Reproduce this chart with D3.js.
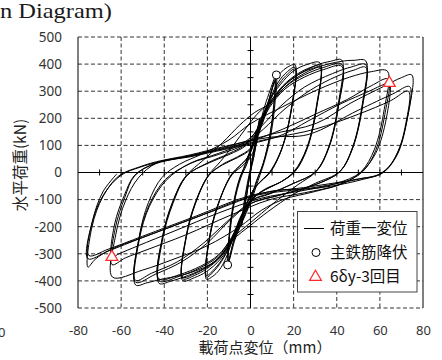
<!DOCTYPE html>
<html><head><meta charset="utf-8">
<script src="https://cdn.jsdelivr.net/npm/d3@7"></script>
<style>body{margin:0;background:#fff;} svg{display:block}</style>
</head><body>
<svg id="chart" width="442" height="360"></svg>
<script>
// Axis ticks (displacement in mm, load in kN)
const xTicks = [-80, -60, -40, -20, 0, 20, 40, 60, 80];
const yTicks = [500, 400, 300, 200, 100, 0, -100, -200, -300, -400, -500];
const xMinorTicks = [-70, -60, -50, -40, -30, -20, -10, 10, 20, 30, 40, 50, 60, 70];
const yMinorTicks = [450, 400, 350, 300, 250, 200, 150, 100, 50, -50, -100, -150, -200, -250, -300, -350, -400, -450];

// Load–displacement record [disp mm, load kN], one array per loading level
const preYield = [[0,0],[1.8,95],[4.2,198],[3.3,142],[1.6,62],[0,8],[-1.9,-92],[-4.1,-194],[-3.2,-136],[-1.5,-55],[0,4],[1.9,96],[4.3,196],[3.3,138],[1.5,56],[0,2],[-2,-94],[-4.2,-192]];

const level1dy = [[-3.2,-122],[-1.5,-42],[0.6,40],[3,130],[6,228],[8.6,292],[12,360],
  [11.3,250],[9.5,140],[6.5,42],[3.6,-28],[0.2,-108],[-4,-186],[-7.2,-248],[-10.6,-341],
  [-10,-236],[-8.3,-130],[-5.5,-32],[-2.5,30],[1,110],[4.5,190],[8,256],[11.5,345],
  [10.8,240],[9,136],[6,36],[3,-30],[0,-105],[-4,-182],[-7.6,-250],[-10.3,-330],
  [-9.7,-228],[-8,-126],[-5.2,-28],[-2.3,28],[1.2,108],[4.7,188],[8.1,252],[11.3,338],
  [10.6,235],[8.8,130],[5.8,32],[2.8,-30],[-0.2,-102],[-4.2,-178],[-7.7,-248],[-10.2,-325]];

const level2dy = [[-9.5,-215],[-7.5,-110],[-4.5,-20],[-1.5,35],[2.5,140],[8,254],[11,330],[14,368],[17,388],[20.6,397],
  [19.1,246],[14.6,91],[9,3],[5,-30],[1.5,-62],[-3,-140],[-8.4,-250],[-11.5,-318],[-14.5,-360],[-17.5,-383],[-20.4,-394],
  [-18.8,-236],[-14.4,-106],[-9,-10],[-5,25],[-1.5,55],[3,140],[8.2,252],[12,322],[16,364],[20.6,388],
  [19.1,240],[14.6,89],[9.2,2],[5,-30],[1.5,-62],[-3,-140],[-8.4,-250],[-12.5,-316],[-16.5,-360],[-20.4,-386],
  [-18.8,-232],[-14.4,-104],[-9,-9],[-5,24],[-1.5,52],[3.2,138],[8.3,250],[12.5,318],[16.5,358],[20.6,382],
  [19.1,236],[14.6,88],[9.3,2],[5.2,-30],[1.6,-62],[-3,-138],[-8.4,-248],[-12.5,-312],[-16.5,-354],[-20.4,-380]];

const level3dy = [[-18.8,-228],[-14.4,-102],[-8.5,-8],[-3,30],[1,72],[4.5,160],[8,254],[14,326],[20,375],[26,398],[32.2,405],
  [30.7,251],[26.2,93],[20.2,4],[14,-35],[7,-60],[2,-90],[-3,-150],[-8.4,-250],[-14,-320],[-20.5,-366],[-26,-388],[-31.4,-399],
  [-29.8,-240],[-25.4,-112],[-19.4,-12],[-13,30],[-6,58],[0,90],[4,160],[8.5,250],[15,320],[22,365],[28,388],[32.2,395],
  [30.7,245],[26.2,90],[20.4,3],[14,-35],[7,-62],[1.5,-92],[-3.5,-150],[-8.6,-245],[-14,-312],[-20.5,-356],[-26,-380],[-31.4,-392],
  [-29.8,-236],[-25.4,-110],[-19.5,-11],[-13,28],[-6,55],[0,86],[4.3,155],[8.8,246],[15,315],[22,360],[28,382],[32.2,388],
  [30.7,240],[26.3,88],[20.6,3],[14,-35],[7,-63],[1.2,-94],[-3.8,-150],[-8.7,-242],[-14,-308],[-20.5,-350],[-26,-374],[-31.4,-386]];

const level4dy = [[-29.8,-232],[-25.4,-106],[-19.5,-10],[-14,40],[-8,100],[-2,165],[3,215],[8.3,254],[16,325],[24,370],[32,400],[37,410],[42.3,415],
  [40.8,257],[36.3,95],[30.3,4],[20,-40],[9,-77],[1,-101],[-3.5,-160],[-8.4,-250],[-15,-320],[-22,-356],[-31,-386],[-37,-401],[-42.4,-409],
  [-40.7,-245],[-36,-115],[-29.5,-12],[-20,35],[-10,70],[-2,105],[3,160],[8.5,245],[16,315],[25,360],[34,388],[42.3,400],
  [40.8,248],[36.3,92],[30.3,3],[22,-45],[12,-105],[3,-165],[-3,-205],[-8.6,-243],[-15,-310],[-23,-350],[-33,-383],[-42.4,-400],
  [-40.8,-240],[-36.2,-112],[-29.8,-12],[-20,33],[-10,66],[-2,100],[3.3,155],[8.8,240],[16,308],[25,352],[34,380],[42.3,392],
  [40.8,243],[36.3,90],[30.4,3],[20,-40],[9,-79],[0,-106],[-4,-160],[-8.8,-240],[-15,-305],[-23,-345],[-33,-377],[-42.4,-393]];

const level5dy = [[-40.8,-236],[-36.2,-110],[-29.8,-12],[-22,45],[-13,110],[-5,175],[2,222],[8.5,252],[18,330],[30,385],[42,410],[48,414],[53.4,412],
  [51.9,255],[47.4,95],[41.4,4],[30,-40],[20,-80],[8,-145],[0,-195],[-8.4,-250],[-16,-325],[-28,-370],[-42,-395],[-48,-407],[-53.3,-415],
  [-51.6,-249],[-46.9,-125],[-39,-28],[-28,34],[-15,70],[-3,110],[5,170],[14,245],[25,315],[38,365],[47,390],[53.4,398],
  [51.9,247],[47.4,92],[41.4,3],[30,-45],[14,-82],[0,-115],[-10,-180],[-20,-260],[-32,-330],[-44,-375],[-53.3,-405],
  [-51.6,-240],[-47,-120],[-39.5,-26],[-28,33],[-15,66],[-3,102],[6,160],[16,235],[28,305],[40,355],[48,378],[53.4,388],
  [51.9,241],[47.4,90],[41.5,3],[30,-45],[14,-83],[-1,-118],[-11,-182],[-22,-262],[-34,-330],[-46,-372],[-53.3,-398]];

const level6dy = [[-51.7,-240],[-47.3,-110],[-41,-18],[-33,30],[-22,70],[-10,120],[0,180],[15,243],[30.7,304],[46,352],[56,372],[63.5,374],
  [62,232],[57.5,86],[51.5,4],[43,-40],[30,-70],[15,-100],[5,-140],[-5,-200],[-20,-270],[-35,-318],[-50,-360],[-64,-386],
  [-62.5,-230],[-58,-105],[-52,-20],[-43.5,35],[-28,60],[-12,90],[0,115],[15,160],[30,215],[45,270],[56,320],[63.8,345],
  [62.3,214],[58,80],[52,3],[41,-45],[25,-75],[9,-100],[-10,-160],[-30,-230],[-48,-285],[-58,-315],[-64.2,-340],
  [-62.7,-205],[-58.3,-92],[-53.7,-12],[-44,35],[-28,58],[-12,85],[0,105],[15,140],[26.7,190],[42,254],[55,300],[62.2,326],[64.4,330],
  [63,200],[58,70],[51,0],[40,-40],[22,-70],[5,-95],[-15,-150],[-35,-215],[-52,-270],[-61,-300],[-64.3,-312]];

const level7dy = [[-63,-190],[-58.5,-84],[-53.7,-10],[-45,30],[-30,58],[-12.6,92],[9,140],[30.7,182],[46.2,255],[61.6,317],[70,350],[74.8,360],
  [73.3,223],[68.5,80],[62,3],[50.8,-28],[30.7,-58],[9,-70],[-20,-150],[-45,-225],[-65,-285],[-72,-320],[-75.4,-349],
  [-73.5,-200],[-68.5,-90],[-61,-12],[-51.3,21],[-43.5,40],[-28,65],[-12.6,95],[9,130],[26.7,140],[50,230],[66,290],[73.8,317],
  [72.5,190],[68,65],[61,-3],[50,-25],[30,-55],[0,-89],[-25,-165],[-50,-240],[-66,-290],[-75.4,-318],
  [-73.5,-185],[-68,-80],[-60,-10],[-51,20],[-43,38],[-28,62],[-12,88],[9,125],[30,160],[50,215],[65,265],[73.2,300],
  [72,180],[67.5,60],[60.5,-3],[49,-25],[28,-52],[0,-85],[-25,-160],[-50,-235],[-66,-283],[-75,-306],
  [-73.3,-180],[-68.5,-72],[-62,-5]];

// Marked points
const yieldPoints = [[12, 360], [-10.6, -341]];          // 主鉄筋降伏
const thirdCycle6dy = [[64.4, 330], [-64.3, -312]];      // 6δy-3回目

const svg = d3.select("#chart");
const x = d3.scaleLinear().domain([-80, 80]).range([78, 423]);
const y = d3.scaleLinear().domain([-500, 500]).range([308, 37]);
const numFont = "'Noto Sans', sans-serif";
const jpFont = "'Noto Sans CJK JP', sans-serif";

// Heading fragment at top-left
svg.append("text").attr("x", 0).attr("y", 17.5)
  .attr("font-family", "'Liberation Serif', 'Times New Roman', serif").attr("font-size", 21.5)
  .attr("textLength", 112).attr("lengthAdjust", "spacingAndGlyphs")
  .attr("fill", "#1a1a1a").text("n Diagram)");

// Fragment of a neighbouring axis label
svg.append("text").attr("x", 5.5).attr("y", 337).attr("text-anchor", "end")
  .attr("font-family", numFont).attr("font-size", 13).attr("fill", "#333").text("80");

// Dashed grid
const grid = svg.append("g").attr("stroke", "#333").attr("stroke-width", 1).attr("stroke-dasharray", "4,2.5");
grid.selectAll("line.v").data(xTicks.filter(d => d !== 0 && Math.abs(d) !== 80)).join("line")
  .attr("x1", d => x(d)).attr("x2", d => x(d)).attr("y1", y(500)).attr("y2", y(-500));
grid.selectAll("line.h").data(yTicks.filter(d => d !== 0)).join("line")
  .attr("x1", x(-80)).attr("x2", x(80)).attr("y1", d => y(d)).attr("y2", d => y(d));

// Solid side borders
svg.append("line").attr("x1", x(-80)).attr("x2", x(-80)).attr("y1", y(500)).attr("y2", y(-500)).attr("stroke", "#000");
svg.append("line").attr("x1", x(80)).attr("x2", x(80)).attr("y1", y(500)).attr("y2", y(-500)).attr("stroke", "#000");

// Zero axes with cross ticks
const axes = svg.append("g").attr("stroke", "#000").attr("stroke-width", 1);
axes.append("line").attr("x1", x(-80)).attr("x2", x(80)).attr("y1", y(0)).attr("y2", y(0));
axes.append("line").attr("x1", x(0)).attr("x2", x(0)).attr("y1", y(500)).attr("y2", y(-500));
axes.selectAll("line.xt").data(xMinorTicks).join("line")
  .attr("x1", d => x(d)).attr("x2", d => x(d)).attr("y1", y(0) - 3).attr("y2", y(0) + 3);
axes.selectAll("line.yt").data(yMinorTicks).join("line")
  .attr("y1", d => y(d)).attr("y2", d => y(d)).attr("x1", x(0) - 3).attr("x2", x(0) + 3);

// Tick labels (plain hyphen for negatives)
const plain = d => String(d);
const xAxis = svg.append("g").attr("transform", `translate(0,${y(-500)})`)
  .call(d3.axisBottom(x).tickValues(xTicks).tickSize(0).tickPadding(18).tickFormat(plain));
const yAxis = svg.append("g").attr("transform", `translate(${x(-80)},0)`)
  .call(d3.axisLeft(y).tickValues(yTicks).tickSize(0).tickPadding(16).tickFormat(plain));
[xAxis, yAxis].forEach(g => {
  g.select(".domain").remove();
  g.selectAll("text").attr("font-family", numFont).attr("font-size", 13.5).attr("fill", "#333");
});
xAxis.selectAll("text").attr("font-size", 13);

// Axis titles
svg.append("text").attr("x", 265).attr("y", 353).attr("text-anchor", "middle")
  .attr("font-family", jpFont).attr("font-size", 15).attr("fill", "#222").text("載荷点変位（mm）");
svg.append("text").attr("transform", "translate(26,165) rotate(-90)").attr("text-anchor", "middle")
  .attr("font-family", jpFont).attr("font-size", 15.5).attr("fill", "#222").text("水平荷重(kN)");

// Hysteresis curve
const record = [].concat(preYield, level1dy, level2dy, level3dy, level4dy, level5dy, level6dy, level7dy);
const line = d3.line().x(d => x(d[0])).y(d => y(d[1])).curve(d3.curveCatmullRom.alpha(0.5));
svg.append("path").datum(record).attr("d", line)
  .attr("fill", "none").attr("stroke", "#000").attr("stroke-width", 1).attr("stroke-linejoin", "round");

// Markers
svg.selectAll("circle.yield").data(yieldPoints).join("circle")
  .attr("cx", d => x(d[0])).attr("cy", d => y(d[1])).attr("r", 4)
  .attr("fill", "#fff").attr("stroke", "#000").attr("stroke-width", 1);
const tri = d3.symbol().type(d3.symbolTriangle).size(60);
svg.selectAll("path.tri").data(thirdCycle6dy).join("path")
  .attr("transform", d => `translate(${x(d[0])},${y(d[1])})`).attr("d", tri)
  .attr("fill", "#fff").attr("stroke", "#ff2a2a").attr("stroke-width", 1.3);

// Legend
const lg = svg.append("g");
lg.append("rect").attr("x", 297.5).attr("y", 211.5).attr("width", 119.5).attr("height", 80.5)
  .attr("fill", "#fff").attr("stroke", "#444").attr("stroke-width", 1);
lg.append("line").attr("x1", 304).attr("x2", 324).attr("y1", 228.5).attr("y2", 228.5).attr("stroke", "#000");
lg.append("circle").attr("cx", 316).attr("cy", 252.5).attr("r", 4).attr("fill", "#fff").attr("stroke", "#000");
lg.append("path").attr("transform", "translate(315.5,277)").attr("d", tri)
  .attr("fill", "#fff").attr("stroke", "#ff2a2a").attr("stroke-width", 1.2);
const legendLabels = ["荷重一変位", "主鉄筋降伏", "6δy-3回目"];
lg.selectAll("text").data(legendLabels).join("text")
  .attr("x", 330).attr("y", (d, i) => 234 + i * 24.2)
  .attr("font-family", jpFont).attr("font-size", 15.5).attr("fill", "#111").text(d => d);
</script>
</body></html>
